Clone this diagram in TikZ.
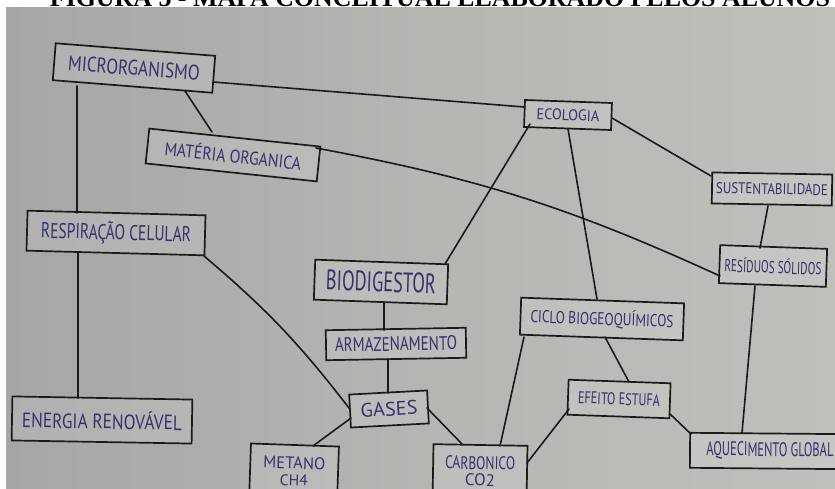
\documentclass[tikz,border=0pt]{standalone}
\usepackage{fontspec}
\usetikzlibrary{calc}
\newfontfamily\handfont{PT Sans}
\newfontfamily\titlefont{Liberation Serif}
\definecolor{ink}{HTML}{33336E}
\definecolor{pen}{HTML}{1A1A1A}
\definecolor{paperL}{HTML}{A6A6A6}
\definecolor{paperM}{HTML}{B5B5B2}
\definecolor{paperR}{HTML}{BFBFBB}
\newcommand{\hw}[3]{\resizebox{#1pt}{#2pt}{\handfont #3}}
\begin{document}
\begin{tikzpicture}[x=1pt,y=-1pt,
  hbox/.style 2 args={draw=pen,line width=1.7pt,fill=white,fill opacity=0.12,
    text opacity=1,draw opacity=1,text=ink,inner sep=0pt,
    minimum width=#1,minimum height=#2},
  link/.style={draw=pen,line width=1.6pt,line cap=round}]
\useasboundingbox (0,0) rectangle (835,489);
% title (cut off at the top of the image)
\node[anchor=base,inner sep=0pt] (title) at (440,7)
  {\resizebox{780pt}{!}{\titlefont\bfseries FIGURA 5 - MAPA CONCEITUAL ELABORADO PELOS ALUNOS}};
% photo background
\shade[left color=paperL,right color=paperR,middle color=paperM] (6,8) rectangle (836,490);
% nodes
\node[hbox={160}{37},rotate=-4.5] (micro) at (134,68) {\hw{132}{15}{MICRORGANISMO}};
\node[hbox={172}{35},rotate=-6] (mat) at (233,155) {\hw{137}{16}{MATÉRIA ORGANICA}};
\node[hbox={87}{27},rotate=-2] (eco) at (568,115) {\hw{63}{11}{ECOLOGIA}};
\node[hbox={120}{31},rotate=-1] (sust) at (772,189) {\hw{112}{11}{SUSTENTABILIDADE}};
\node[hbox={107}{38},rotate=-2] (res) at (773,266) {\hw{97}{15}{RESÍDUOS SÓLIDOS}};
\node[hbox={178}{40},rotate=-1.5] (resp) at (116,233) {\hw{150}{18}{RESPIRAÇÃO CELULAR}};
\node[hbox={180}{44},rotate=-1] (ener) at (102,420) {\hw{160}{18}{ENERGIA RENOVÁVEL}};
\node[hbox={133}{40},rotate=-2] (bio) at (381,282) {\hw{110}{20}{BIODIGESTOR}};
\node[hbox={140}{30},rotate=1] (arm) at (396,344) {\hw{122}{14}{ARMAZENAMENTO}};
\node[hbox={78}{33},rotate=3] (gas) at (389,409) {\hw{57}{14}{GASES}};
\node[hbox={88}{56},rotate=-2] (met) at (294,473)
  {\raisebox{4pt}{\begin{tabular}{@{}c@{}}\hw{62}{12}{METANO}\\[2pt]\hw{28}{11}{CH4}\end{tabular}}};
\node[hbox={94}{56},rotate=-1] (carb) at (480,473)
  {\raisebox{5pt}{\begin{tabular}{@{}c@{}}\hw{70}{13}{CARBONICO}\\[1pt]\hw{30}{12}{CO2}\end{tabular}}};
\node[hbox={163}{37},rotate=-2] (ciclo) at (602,319) {\hw{143}{15}{CICLO BIOGEOQUÍMICOS}};
\node[hbox={102}{35},rotate=-2] (efe) at (619,399) {\hw{82}{12}{EFEITO ESTUFA}};
\node[hbox={160}{35},rotate=-0.5] (aq) at (770,451) {\hw{127}{14}{AQUECIMENTO GLOBAL}\hspace{20pt}};
% connectors
\draw[link] ($(micro)+(79,14)$) -- ($(eco)+(-44,-8)$);
\draw[link] ($(micro)+(51,23)$) -- ($(mat)+(-21,-23)$);
\draw[link] ($(micro)+(-57,18)$) -- ($(resp)+(-39,-20)$);
\draw[link] ($(resp)+(-38,20)$) -- ($(ener)+(-24,-22)$);
\draw[link] ($(resp)+(88,23)$) to[bend left=6] ($(gas)+(-40,-1)$);
\draw[link] ($(mat)+(83,-7)$) to[bend left=7] ($(res)+(-53,10)$);
\draw[link] ($(eco)+(-38,9)$) -- ($(bio)+(64,-18)$);
\draw[link] ($(eco)+(0,14)$) -- ($(ciclo)+(-5,-20)$);
\draw[link] ($(eco)+(44,3)$) -- ($(sust)+(-61,-13)$);
\draw[link] ($(sust)+(-4,17)$) -- ($(res)+(-13,-18)$);
\draw[link] ($(res)+(-18,20)$) -- ($(aq)+(-28,-18)$);
\draw[link] ($(bio)+(3,20)$) -- ($(arm)+(-12,-14)$);
\draw[link] ($(arm)+(-8,15)$) -- ($(gas)+(-1,-16)$);
\draw[link] ($(gas)+(-38,9)$) -- ($(met)+(19,-27)$);
\draw[link] ($(gas)+(38,-1)$) -- ($(carb)+(-18,-29)$);
\draw[link] ($(ciclo)+(-78,18)$) -- ($(carb)+(20,-27)$);
\draw[link] ($(ciclo)+(3,18)$) -- ($(efe)+(10,-17)$);
\draw[link] ($(efe)+(-50,10)$) -- ($(carb)+(47,-10)$);
\draw[link] ($(efe)+(51,15)$) -- ($(aq)+(-79,-17)$);
\end{tikzpicture}
\end{document}
